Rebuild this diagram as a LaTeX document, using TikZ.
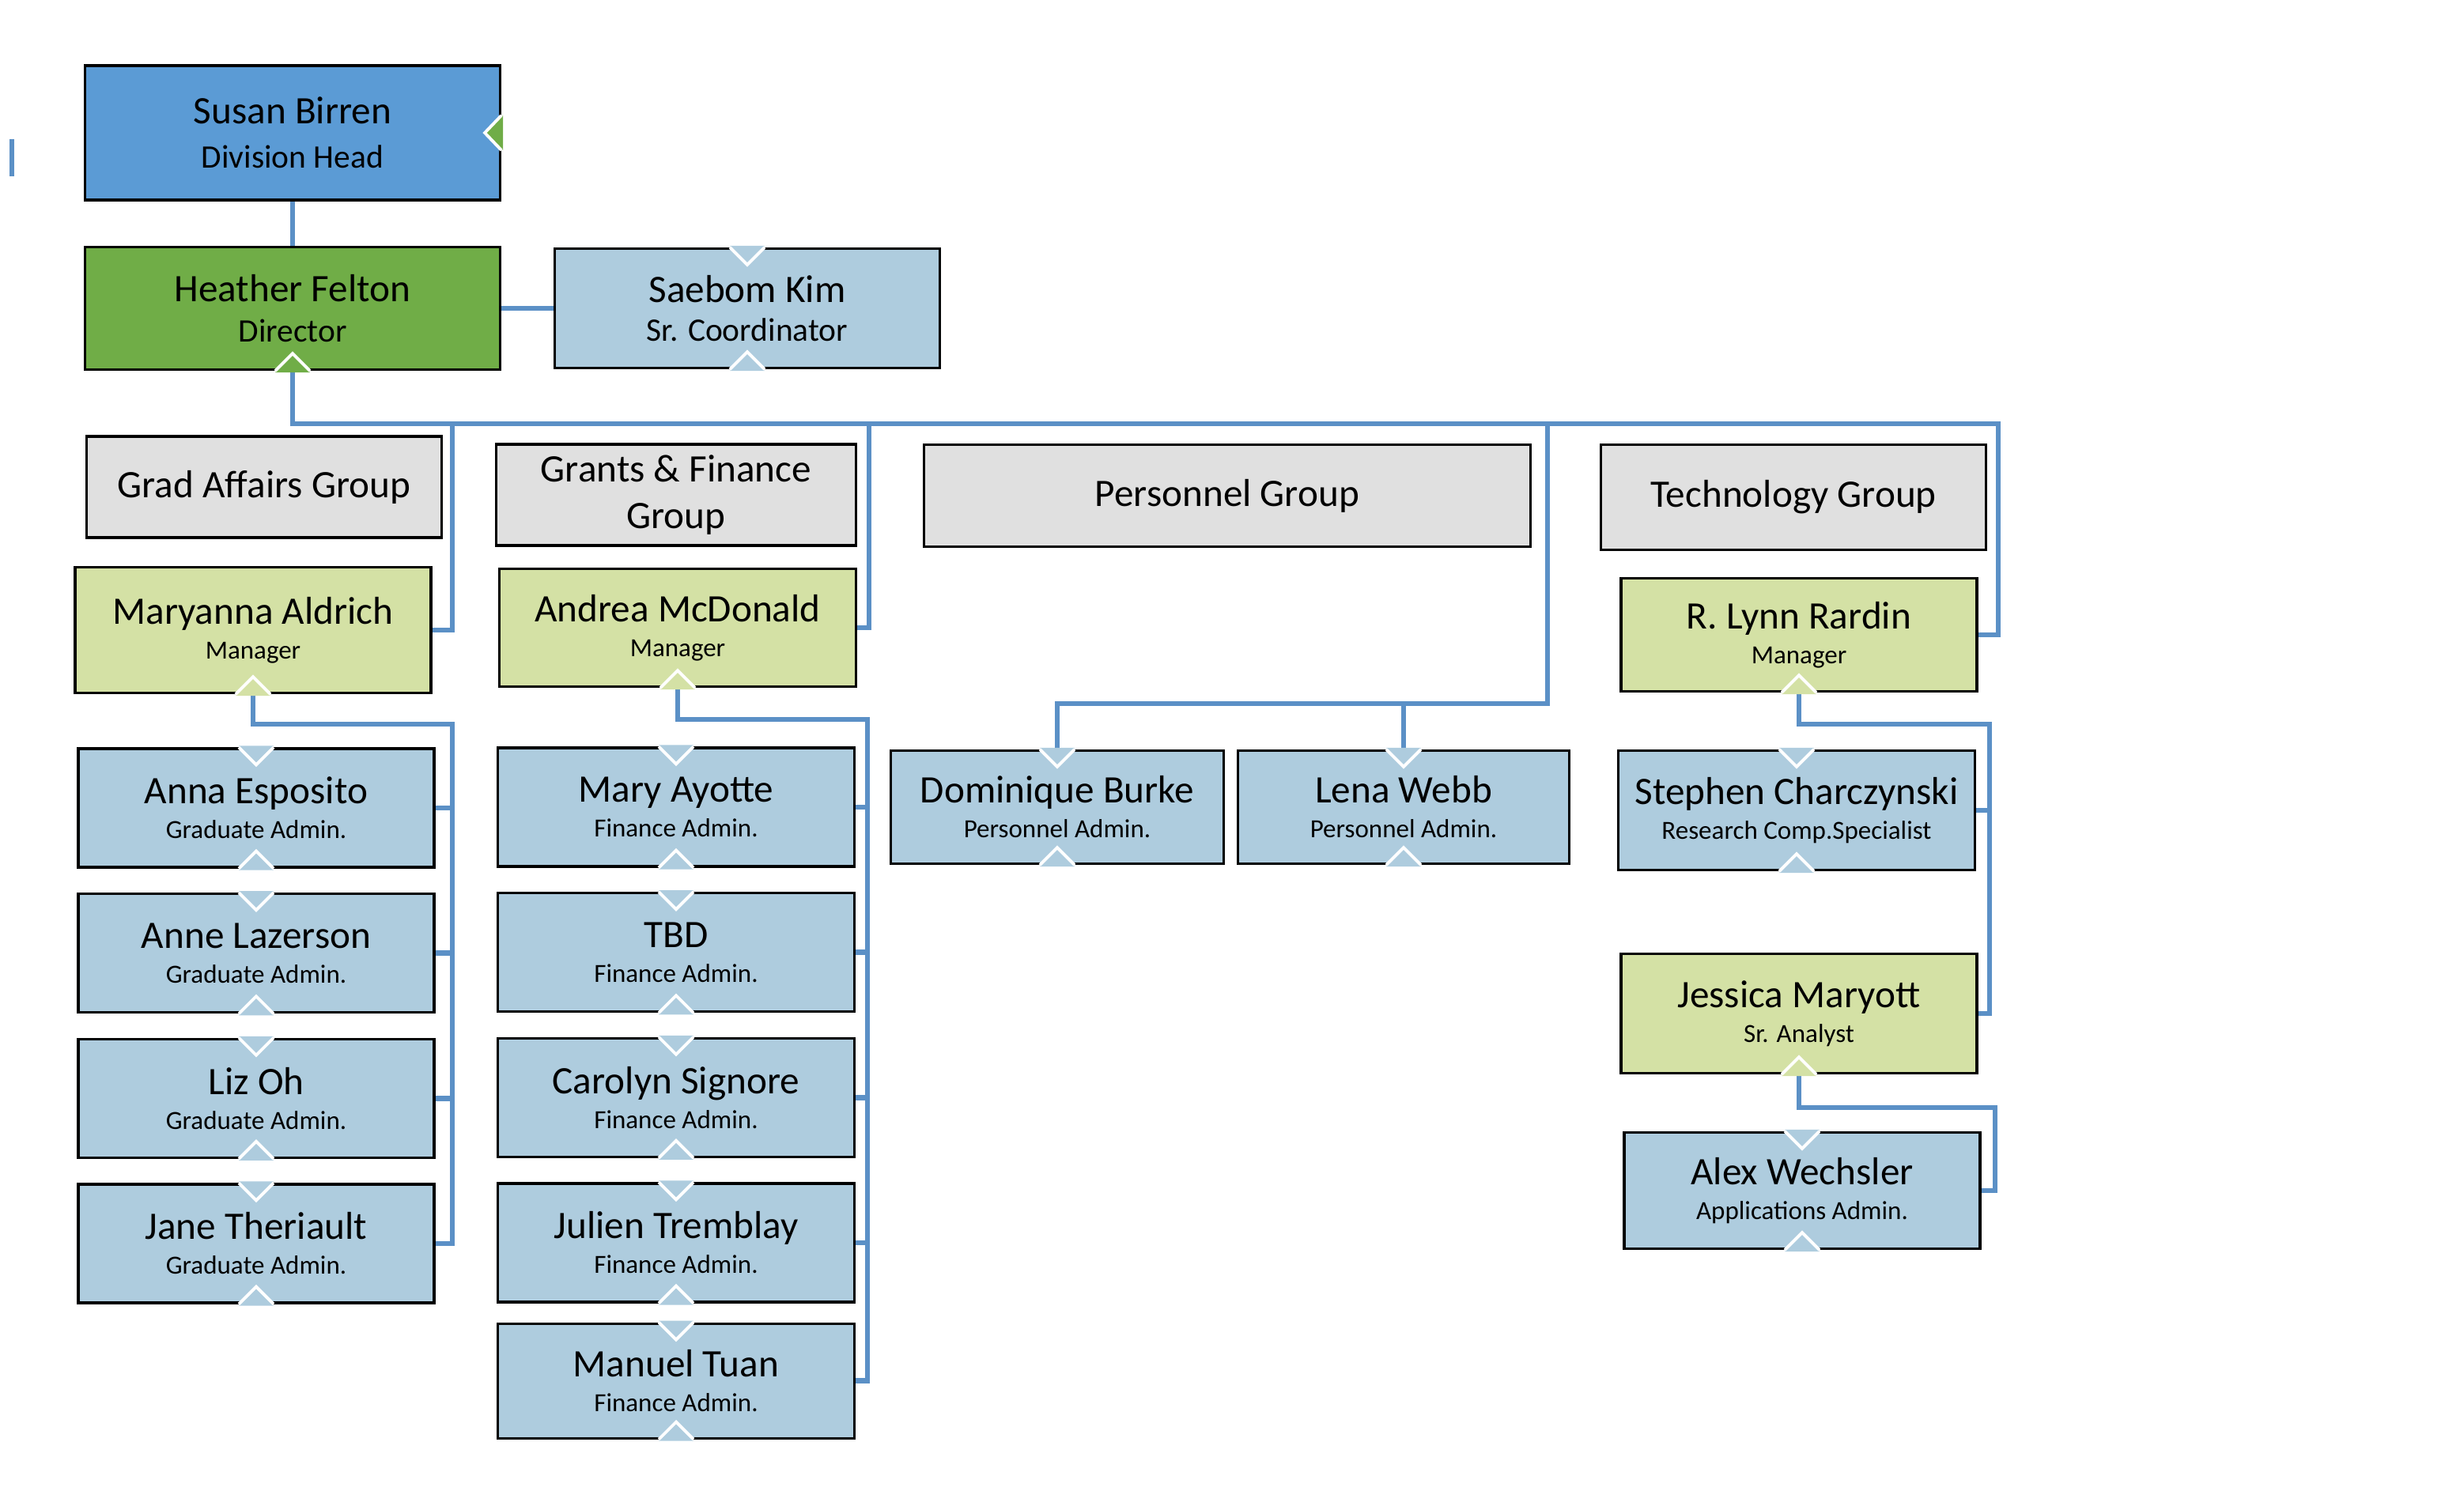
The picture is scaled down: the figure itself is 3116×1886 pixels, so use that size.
\documentclass[tikz,border=0pt]{standalone}
\usepackage{fontspec}
\setmainfont{Carlito}
\usetikzlibrary{calc,positioning}
\definecolor{headblue}{RGB}{91,155,213}
\definecolor{dirgreen}{RGB}{112,173,71}
\definecolor{staffblue}{RGB}{174,204,222}
\definecolor{mgrgreen}{RGB}{212,225,165}
\definecolor{groupgrey}{RGB}{224,224,224}
\definecolor{linkblue}{RGB}{91,144,198}
\newcommand{\topnotch}[2]{
	\fill[#2] ($(#1.north)+(-22,-2)$) -- ($(#1.north)+(0,22)$) -- ($(#1.north)+(22,-2)$) -- cycle;
	\draw[white,line width=1.1pt] ($(#1.north)+(-22,0)$) -- ($(#1.north)+(0,22)$) -- ($(#1.north)+(22,0)$);
}
\newcommand{\botnotch}[2]{
	\fill[#2] ($(#1.south)+(-22,2)$) -- ($(#1.south)+(0,-22)$) -- ($(#1.south)+(22,2)$) -- cycle;
	\draw[white,line width=1.1pt] ($(#1.south)+(-22,0)$) -- ($(#1.south)+(0,-22)$) -- ($(#1.south)+(22,0)$);
}
\newcommand{\person}[2]{{\fontsize{14}{17}\selectfont #1}\\#2}

\begin{document}
\begin{tikzpicture}[x=0.1mm,y=-0.1mm,
	box/.style={draw=black,line width=0.9pt,rectangle,inner sep=0pt,align=center,font=\fontsize{9.4}{12.5}\selectfont},
	staff/.style={box,fill=staffblue,minimum width=45mm,minimum height=15mm},
	manager/.style={box,fill=mgrgreen,minimum width=45mm,minimum height=15mm},
	group/.style={box,fill=groupgrey,font=\fontsize{14}{17}\selectfont},
	link/.style={draw=linkblue,line width=1.9pt}]
\useasboundingbox (0,0) rectangle (3116,1886);

% top of the chart
\node[box,fill=headblue,minimum width=52.5mm,minimum height=17mm,font=\fontsize{11.8}{16}\selectfont] (birren) at (370,168) {\person{Susan Birren}{Division Head}};
\node[box,fill=dirgreen,minimum width=52.5mm,minimum height=15.5mm,font=\fontsize{11.8}{14.5}\selectfont] (felton) at (370,390) {\person{Heather Felton}{Director}};
\node[staff,minimum width=48.7mm,minimum height=15.1mm,font=\fontsize{11.8}{14}\selectfont] (kim) at (945,390) {\person{Saebom Kim}{Sr. Coordinator}};

% group headers
\node[group,minimum width=44.9mm,minimum height=12.8mm] (gradgroup) at (334,616) {Grad Affairs Group};
\node[group,minimum width=45.5mm,minimum height=12.8mm] (fingroup) at (855,626) {Grants \& Finance\\Group};
\node[group,minimum width=76.7mm,minimum height=12.9mm] (pergroup) at (1552,627) {Personnel Group};
\node[group,minimum width=48.7mm,minimum height=13.3mm] (techgroup) at (2268,629) {Technology Group};

% managers
\node[manager,minimum height=15.9mm] (aldrich) at (320,797) {\person{Maryanna Aldrich}{Manager}};
\node[manager,minimum width=45.1mm,minimum height=14.9mm] (mcdonald) at (857,794) {\person{Andrea McDonald}{Manager}};
\node[manager,minimum height=14.3mm] (rardin) at (2275,803) {\person{R. Lynn Rardin}{Manager}};
\node[manager,minimum height=15.1mm] (maryott) at (2275,1282) {\person{Jessica Maryott}{Sr. Analyst}};

% grad affairs
\node[staff] (esposito) at (324,1022) {\person{Anna Esposito}{Graduate Admin.}};
\node[staff,below=3.05mm of esposito] (lazerson) {\person{Anne Lazerson}{Graduate Admin.}};
\node[staff,below=3.05mm of lazerson] (oh) {\person{Liz Oh}{Graduate Admin.}};
\node[staff,below=3.05mm of oh] (theriault) {\person{Jane Theriault}{Graduate Admin.}};

% grants and finance
\node[staff,minimum width=45.1mm] (ayotte) at (855,1021) {\person{Mary Ayotte}{Finance Admin.}};
\node[staff,minimum width=45.1mm,below=3.05mm of ayotte] (tbd) {\person{TBD}{Finance Admin.}};
\node[staff,minimum width=45.1mm,below=3.05mm of tbd] (signore) {\person{Carolyn Signore}{Finance Admin.}};
\node[staff,minimum width=45.1mm,below=3.05mm of signore] (tremblay) {\person{Julien Tremblay}{Finance Admin.}};
\node[staff,minimum width=45.1mm,minimum height=14.5mm,below=2.4mm of tremblay] (tuan) {\person{Manuel Tuan}{Finance Admin.}};

% personnel
\node[staff,minimum width=42.1mm,minimum height=14.3mm] (burke) at (1337,1021) {\person{Dominique Burke}{Personnel Admin.}};
\node[staff,minimum width=41.9mm,minimum height=14.3mm] (webb) at (1775,1021) {\person{Lena Webb}{Personnel Admin.}};

% technology
\node[staff,minimum width=45.1mm,minimum height=15.1mm] (charczynski) at (2272,1025) {\person{Stephen Charczynski}{Research Comp.Specialist}};
\node[staff,minimum height=14.7mm] (wechsler) at (2279,1506) {\person{Alex Wechsler}{Applications Admin.}};

% connectors
\coordinate (busend) at (2527,536);
\coordinate (gradtap) at (572,536);
\coordinate (fintap) at (1099,536);
\coordinate (pertap) at (1957,536);
\coordinate (perbar) at (1957,890);
\coordinate (gradspine) at (572,916);
\coordinate (finspine) at (1097,910);
\coordinate (techspine) at (2516,916);
\coordinate (appspine) at (2523,1401);
\coordinate (stray) at (15,176);

\draw[link] (stray) -- ++(0,47);
\draw[link] (birren.south) -- (felton.north);
\draw[link] (felton.east) -- (kim.west);
\draw[link] (felton.south) |- (busend) |- (rardin.east);
\draw[link] (gradtap) |- (aldrich.east);
\draw[link] (fintap) |- (mcdonald.east);
\draw[link] (pertap) -- (perbar) -| (burke.north);
\draw[link] (webb.north) |- (perbar);

\draw[link] (aldrich.south) |- (gradspine) |- (theriault.east);
\foreach \n in {esposito,lazerson,oh}
	\draw[link] (\n.east) -- (\n.east -| gradspine);
\draw[link] (mcdonald.south) |- (finspine) |- (tuan.east);
\foreach \n in {ayotte,tbd,signore,tremblay}
	\draw[link] (\n.east) -- (\n.east -| finspine);
\draw[link] (rardin.south) |- (techspine) |- (maryott.east);
\draw[link] (charczynski.east) -- (charczynski.east -| techspine);
\draw[link] (maryott.south) |- (appspine) |- (wechsler.east);

% notches
\fill[dirgreen] ($(birren.east)+(2,-22)$) -- ($(birren.east)+(-21,0)$) -- ($(birren.east)+(2,22)$) -- cycle;
\draw[white,line width=1.1pt] ($(birren.east)+(0,-22)$) -- ($(birren.east)+(-21,0)$) -- ($(birren.east)+(0,22)$);
\botnotch{felton}{dirgreen}
\foreach \n in {aldrich,mcdonald,rardin,maryott}
	\botnotch{\n}{mgrgreen};
\foreach \n in {kim,esposito,lazerson,oh,theriault,ayotte,tbd,signore,tremblay,tuan,burke,webb,charczynski,wechsler}{
	\topnotch{\n}{staffblue}
	\botnotch{\n}{staffblue}
}
\end{tikzpicture}
\end{document}
